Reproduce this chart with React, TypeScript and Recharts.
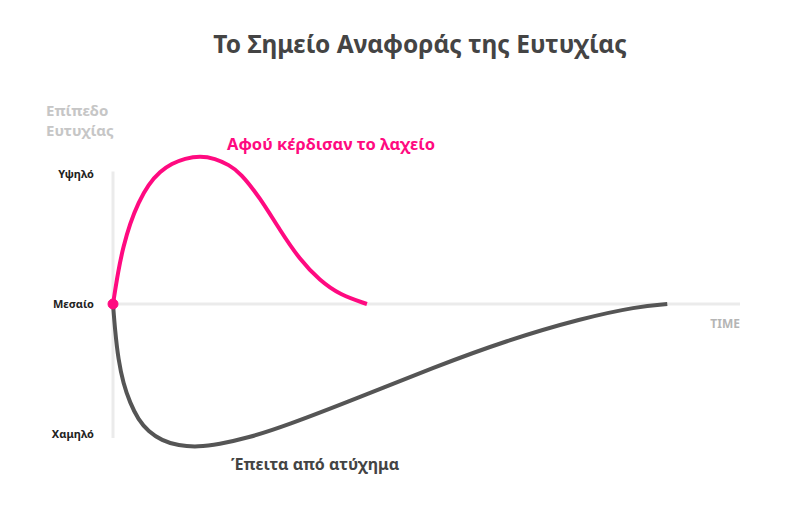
import React from 'react'
import { LineChart, Line, XAxis, YAxis, ReferenceLine, ReferenceDot } from 'recharts'

// time (0-100) and happiness level (-1 low, 0 mid, 1 high)
const LOTTERY_T = [0, 0.85, 1.64, 2.71, 4.04, 5.63, 7.5, 9.36, 11.48, 13.88, 16.27, 18.5, 20.3, 23.4, 26.6, 29.8, 33.0, 36.2, 40.5]
const LOTTERY_V = [0, 0.26, 0.44, 0.62, 0.78, 0.92, 1.02, 1.08, 1.12, 1.14, 1.12, 1.07, 1.01, 0.82, 0.57, 0.34, 0.18, 0.07, 0]

const ACCIDENT_T = [0, 0.32, 0.85, 1.64, 2.71, 4.04, 5.63, 7.77, 10.41, 13.6, 16.8, 21.5, 27.4, 39.2, 51.0, 62.8, 74.8, 83.6, 88.4]
const ACCIDENT_V = [0, -0.2, -0.43, -0.61, -0.76, -0.89, -0.98, -1.05, -1.09, -1.1, -1.08, -1.03, -0.94, -0.72, -0.49, -0.28, -0.11, -0.02, 0]

const LEVEL_TICKS = [-1, 0, 1]
const LEVEL_LABELS: Record<number, string> = { '-1': 'Χαμηλό', 0: 'Μεσαίο', 1: 'Υψηλό' }

const lottery = LOTTERY_T.map((t, i) => ({ t, v: LOTTERY_V[i] }))
const accident = ACCIDENT_T.map((t, i) => ({ t, v: ACCIDENT_V[i] }))

const PINK = '#ff0a80'
const DARK = '#555555'
const FONT = '"Noto Sans", sans-serif'

export default function App() {
    return (
        <div style={{ position: 'fixed', top: 0, left: 0, width: 800, height: 520, background: '#fff', fontFamily: FONT }}>
            <LineChart width={800} height={520} margin={{ top: 141.5, right: 60, left: 53, bottom: 53.5 }}>
                <XAxis type="number" dataKey="t" domain={[0, 100]} hide />
                <YAxis
                    type="number"
                    domain={[-1.25, 1.25]}
                    ticks={LEVEL_TICKS}
                    width={60}
                    axisLine={false}
                    tickLine={false}
                    tickSize={0}
                    tickMargin={19}
                    tickFormatter={(v: number) => LEVEL_LABELS[v]}
                    tick={{ fill: '#222', fontSize: 11, fontWeight: 700, fontFamily: FONT }}
                />
                <ReferenceLine y={0} stroke="#ebebeb" strokeWidth={3} />
                <ReferenceLine segment={[{ x: 0, y: -1.03 }, { x: 0, y: 1.02 }]} stroke="#ebebeb" strokeWidth={3} />
                <Line data={accident} dataKey="v" type="basis" stroke={DARK} strokeWidth={4} dot={false} isAnimationActive={false} />
                <Line data={lottery} dataKey="v" type="basis" stroke={PINK} strokeWidth={4} dot={false} isAnimationActive={false} />
                <ReferenceDot x={0} y={0} r={5} fill={PINK} stroke={PINK} />
            </LineChart>
            <svg width={800} height={520} style={{ position: 'absolute', top: 0, left: 0, pointerEvents: 'none' }}>
                <text x={420} y={53} textAnchor="middle" fontSize={24.5} fontWeight={700} fill="#444" fontFamily={FONT}>
                    Το Σημείο Αναφοράς της Ευτυχίας
                </text>
                <text x={46} y={116} fontSize={15} fontWeight={700} fill="#c6c6c6" fontFamily={FONT}>Επίπεδο</text>
                <text x={46} y={136} fontSize={15} fontWeight={700} fill="#c6c6c6" fontFamily={FONT}>Ευτυχίας</text>
                <text x={227} y={150} fontSize={16.5} fontWeight={700} fill={PINK} fontFamily={FONT}>Αφού κέρδισαν το λαχείο</text>
                <text x={231} y={470} fontSize={16} fontWeight={700} fill="#444" fontFamily={FONT}>Έπειτα από ατύχημα</text>
                <text x={740} y={328} textAnchor="end" fontSize={12} fontWeight={700} fill="#b5b5b5" fontFamily={FONT}>TIME</text>
            </svg>
        </div>
    )
}
